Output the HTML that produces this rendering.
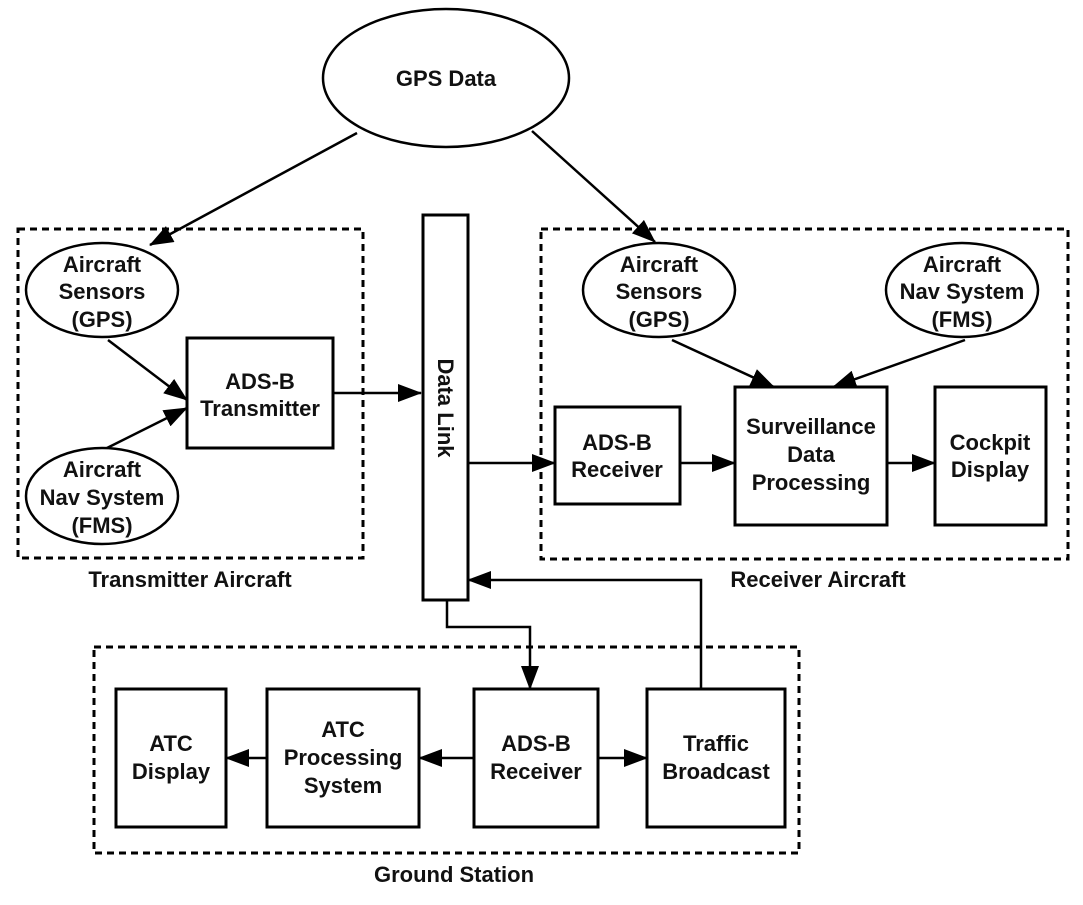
<!DOCTYPE html>
<html><head><style>
html,body{margin:0;padding:0;background:#fff;}
svg text{font-family:"Liberation Sans",Arial,sans-serif;font-weight:bold;font-size:22px;fill:#111;text-anchor:middle;}
</style></head><body>
<svg width="1083" height="900" viewBox="0 0 1083 900" xmlns="http://www.w3.org/2000/svg">
<defs>
<marker id="b" markerWidth="24" markerHeight="18" refX="23" refY="9" orient="auto" markerUnits="userSpaceOnUse">
<path d="M0,0 L24,9 L0,18 z" fill="#000"/>
</marker>
</defs>
<g fill="none" stroke="#000" stroke-width="3" stroke-dasharray="7,5">
<rect x="18" y="229" width="345" height="329"/>
<rect x="541" y="229" width="527" height="330"/>
<rect x="94" y="647" width="705" height="206"/>
</g>
<g fill="#fff" stroke="#000" stroke-width="2.5">
<ellipse cx="446" cy="78" rx="123" ry="69"/>
<ellipse cx="102" cy="290" rx="76" ry="47"/>
<ellipse cx="102" cy="496" rx="76" ry="48"/>
<ellipse cx="659" cy="290" rx="76" ry="47"/>
<ellipse cx="962" cy="290" rx="76" ry="47"/>
</g>
<g fill="#fff" stroke="#000" stroke-width="3">
<rect x="187" y="338" width="146" height="110"/>
<rect x="423" y="215" width="45" height="385"/>
<rect x="555" y="407" width="125" height="97"/>
<rect x="735" y="387" width="152" height="138"/>
<rect x="935" y="387" width="111" height="138"/>
<rect x="116" y="689" width="110" height="138"/>
<rect x="267" y="689" width="152" height="138"/>
<rect x="474" y="689" width="124" height="138"/>
<rect x="647" y="689" width="138" height="138"/>
</g>
<g fill="none" stroke="#000" stroke-width="2.5">
<line x1="357" y1="133" x2="150" y2="245" marker-end="url(#b)"/>
<line x1="532" y1="131" x2="655" y2="242" marker-end="url(#b)"/>
<line x1="108" y1="340" x2="187" y2="400" marker-end="url(#b)"/>
<line x1="107" y1="448" x2="187" y2="408" marker-end="url(#b)"/>
<line x1="333" y1="393" x2="421" y2="393" marker-end="url(#b)"/>
<line x1="468" y1="463" x2="555" y2="463" marker-end="url(#b)"/>
<line x1="680" y1="463" x2="735" y2="463" marker-end="url(#b)"/>
<line x1="887" y1="463" x2="935" y2="463" marker-end="url(#b)"/>
<line x1="672" y1="340" x2="774" y2="387" marker-end="url(#b)"/>
<line x1="965" y1="340" x2="833" y2="387" marker-end="url(#b)"/>
<polyline points="701,689 701,580 468,580" marker-end="url(#b)"/>
<polyline points="447,600 447,627 530,627 530,689" marker-end="url(#b)"/>
<line x1="474" y1="758" x2="419" y2="758" marker-end="url(#b)"/>
<line x1="267" y1="758" x2="226" y2="758" marker-end="url(#b)"/>
<line x1="598" y1="758" x2="647" y2="758" marker-end="url(#b)"/>
</g>
<text x="446" y="86">GPS Data</text>
<text x="102" y="272">Aircraft</text><text x="102" y="299">Sensors</text><text x="102" y="327">(GPS)</text>
<text x="102" y="477">Aircraft</text><text x="102" y="505">Nav System</text><text x="102" y="533">(FMS)</text>
<text x="260" y="389">ADS-B</text><text x="260" y="416">Transmitter</text>
<text x="659" y="272">Aircraft</text><text x="659" y="299">Sensors</text><text x="659" y="327">(GPS)</text>
<text x="962" y="272">Aircraft</text><text x="962" y="299">Nav System</text><text x="962" y="327">(FMS)</text>
<text x="617" y="450">ADS-B</text><text x="617" y="477">Receiver</text>
<text x="811" y="434">Surveillance</text><text x="811" y="462">Data</text><text x="811" y="490">Processing</text>
<text x="990" y="450">Cockpit</text><text x="990" y="477">Display</text>
<text x="171" y="751">ATC</text><text x="171" y="779">Display</text>
<text x="343" y="737">ATC</text><text x="343" y="765">Processing</text><text x="343" y="793">System</text>
<text x="536" y="751">ADS-B</text><text x="536" y="779">Receiver</text>
<text x="716" y="751">Traffic</text><text x="716" y="779">Broadcast</text>
<text x="190" y="587">Transmitter Aircraft</text>
<text x="818" y="587">Receiver Aircraft</text>
<text x="454" y="882">Ground Station</text>
<text transform="translate(438,408) rotate(90)">Data Link</text>
</svg>
</body></html>
